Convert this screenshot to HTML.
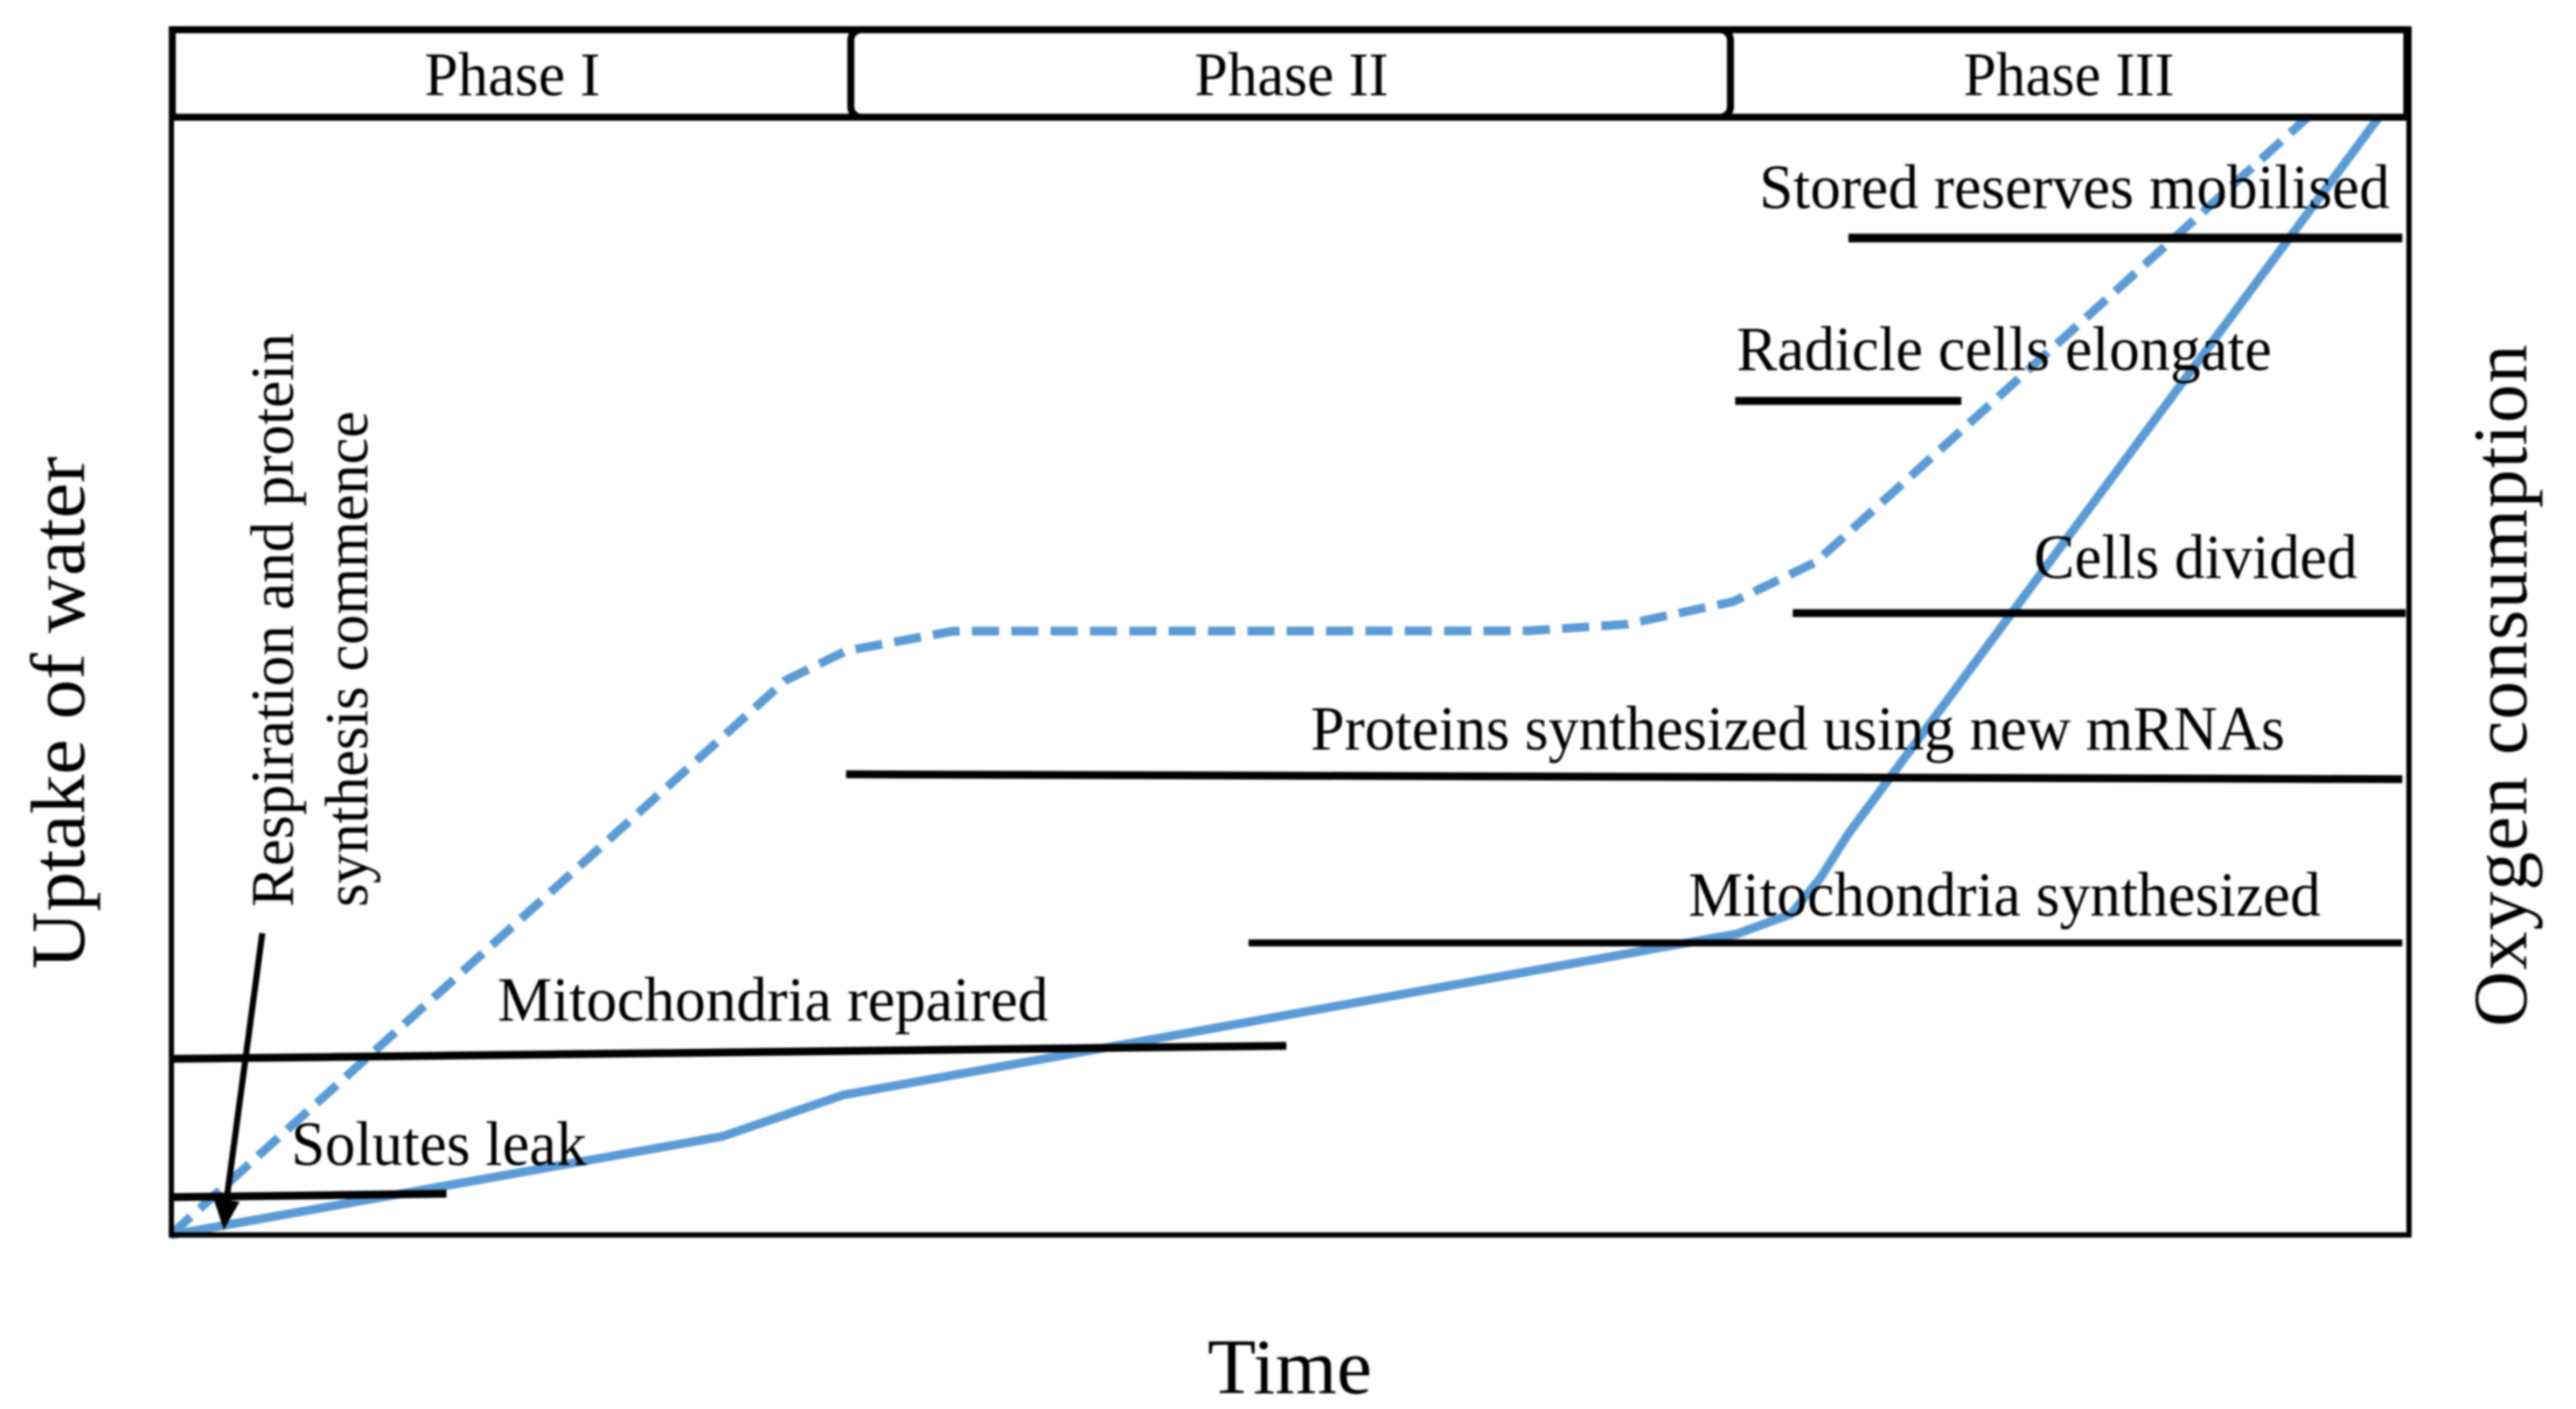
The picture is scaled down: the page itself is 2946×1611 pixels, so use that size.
<!DOCTYPE html>
<html lang="en">
<head>
<meta charset="utf-8">
<title>Seed germination phases</title>
<style>
html,body{margin:0;padding:0;background:#fff;width:2946px;height:1611px;overflow:hidden}
svg{display:block;filter:blur(1px)}
text{font-family:"Liberation Serif","Times New Roman",serif;fill:#000}
</style>
</head>
<body>
<svg id="chart" xmlns="http://www.w3.org/2000/svg" width="2946" height="1611" viewBox="0 0 2946 1611">
  <rect x="0" y="0" width="2946" height="1611" fill="#ffffff"/>
  <g id="series-layer"></g>
  <g id="stage-layer"></g>

  <g fill="none" stroke="#000">
    <rect x="196" y="35" width="2559" height="1377" stroke-width="6"/>
    <line x1="193" y1="34" x2="2758" y2="34" stroke-width="8"/>
    <line x1="193" y1="134" x2="2758" y2="134" stroke-width="8"/>
    <line x1="197" y1="32" x2="197" y2="136" stroke-width="8"/>
    <line x1="2753" y1="32" x2="2753" y2="136" stroke-width="9"/>
    <rect x="973" y="34" width="1006" height="100" rx="12" ry="12" stroke-width="8"/>
  </g>

  <text x="586" y="109" font-size="71" text-anchor="middle" textLength="201" lengthAdjust="spacingAndGlyphs">Phase I</text>
  <text x="1477" y="109" font-size="71" text-anchor="middle" textLength="222" lengthAdjust="spacingAndGlyphs">Phase II</text>
  <text x="2366" y="109" font-size="71" text-anchor="middle" textLength="241" lengthAdjust="spacingAndGlyphs">Phase III</text>

  <text x="2012" y="238" font-size="72" textLength="721" lengthAdjust="spacingAndGlyphs">Stored reserves mobilised</text>
  <text x="1986" y="423" font-size="72" textLength="612" lengthAdjust="spacingAndGlyphs">Radicle cells elongate</text>
  <text x="2326" y="661" font-size="72" textLength="370" lengthAdjust="spacingAndGlyphs">Cells divided</text>
  <text x="1499" y="857" font-size="72" textLength="1114" lengthAdjust="spacingAndGlyphs">Proteins synthesized using new mRNAs</text>
  <text x="1931" y="1047" font-size="72" textLength="723" lengthAdjust="spacingAndGlyphs">Mitochondria synthesized</text>
  <text x="569" y="1167" font-size="72" textLength="630" lengthAdjust="spacingAndGlyphs">Mitochondria repaired</text>
  <text x="333" y="1332" font-size="72" textLength="338" lengthAdjust="spacingAndGlyphs">Solutes leak</text>

  <text transform="translate(335 1037) rotate(-90)" font-size="70" textLength="656" lengthAdjust="spacingAndGlyphs">Respiration and protein</text>
  <text transform="translate(420 1037) rotate(-90)" font-size="70" textLength="567" lengthAdjust="spacingAndGlyphs">synthesis commence</text>

  <g>
    <line x1="300" y1="1067" x2="258" y2="1380" stroke="#000" stroke-width="7"/>
    <polygon points="244,1370 274,1374 256,1406" fill="#000"/>
  </g>

  <text transform="translate(96 1108) rotate(-90)" font-size="88" textLength="586" lengthAdjust="spacingAndGlyphs">Uptake of water</text>
  <text transform="translate(2889 1174) rotate(-90)" font-size="88" textLength="780" lengthAdjust="spacing">Oxygen consumption</text>
  <text x="1381" y="1593" font-size="90" textLength="188" lengthAdjust="spacingAndGlyphs">Time</text>
</svg>

<script>
// Values: time runs 0-100 across the plot, level 0-100 from the axis to the header.
const oxygenTime = [0, 24.67, 30.03, 69.97, 72.39, 73.7, 74.96, 98.68];
const oxygenLevel = [0, 8.82, 12.5, 26.91, 28.68, 31.9, 35.88, 100];
const waterTime = [0, 27.46, 30.18, 34.95, 60.65, 65.05, 69.82, 73.5, 95.52];
const waterLevel = [0, 49.56, 52.21, 53.97, 54, 54.6, 56.62, 60.15, 100];

const stageNames = ['solutes-leak', 'mitochondria-repaired', 'mitochondria-synthesized', 'proteins-synthesized', 'cells-divided', 'radicle-cells-elongate', 'stored-reserves-mobilised'];
const stageStart = [0, 0, 48.16, 30.18, 72.47, 69.9, 74.96];
const stageEnd = [12.33, 49.85, 99.7, 99.7, 99.85, 80, 99.7];
const stageLevelStart = [3.38, 15.74, 26.1, 41.18, 55.59, 74.56, 89.12];
const stageLevelEnd = [3.68, 16.91, 26.1, 40.74, 55.59, 74.56, 89.12];
const stageThickness = [9, 9, 8, 9, 9, 9, 10];

const SVG_NS = 'http://www.w3.org/2000/svg';
const plotLeft = 195, plotRight = 2755, plotBottom = 1412, plotTop = 133;
function xScale(t) { return plotLeft + (plotRight - plotLeft) * t / 100; }
function yScale(v) { return plotBottom - (plotBottom - plotTop) * v / 100; }
function linePoints(times, levels) {
  return times.map(function (t, i) { return xScale(t).toFixed(1) + ',' + yScale(levels[i]).toFixed(1); }).join(' ');
}

const seriesLayer = document.getElementById('series-layer');

const waterLine = document.createElementNS(SVG_NS, 'polyline');


waterLine.setAttribute('points', linePoints(waterTime, waterLevel));
waterLine.setAttribute('fill', 'none');
waterLine.setAttribute('stroke', '#5b9bd5');
waterLine.setAttribute('stroke-width', '10');
waterLine.setAttribute('stroke-dasharray', '31 14');
waterLine.setAttribute('stroke-linejoin', 'round');
seriesLayer.appendChild(waterLine);

const oxygenLine = document.createElementNS(SVG_NS, 'polyline');


oxygenLine.setAttribute('points', linePoints(oxygenTime, oxygenLevel));
oxygenLine.setAttribute('fill', 'none');
oxygenLine.setAttribute('stroke', '#5b9bd5');
oxygenLine.setAttribute('stroke-width', '10');
oxygenLine.setAttribute('stroke-linejoin', 'round');
seriesLayer.appendChild(oxygenLine);

const stageLayer = document.getElementById('stage-layer');
stageNames.forEach(function (name, i) {
  const bar = document.createElementNS(SVG_NS, 'line');
  
  
  bar.setAttribute('x1', xScale(stageStart[i]));
  bar.setAttribute('y1', yScale(stageLevelStart[i]));
  bar.setAttribute('x2', xScale(stageEnd[i]));
  bar.setAttribute('y2', yScale(stageLevelEnd[i]));
  bar.setAttribute('stroke', '#000');
  bar.setAttribute('stroke-width', stageThickness[i]);
  stageLayer.appendChild(bar);
});
</script>
</body>
</html>
